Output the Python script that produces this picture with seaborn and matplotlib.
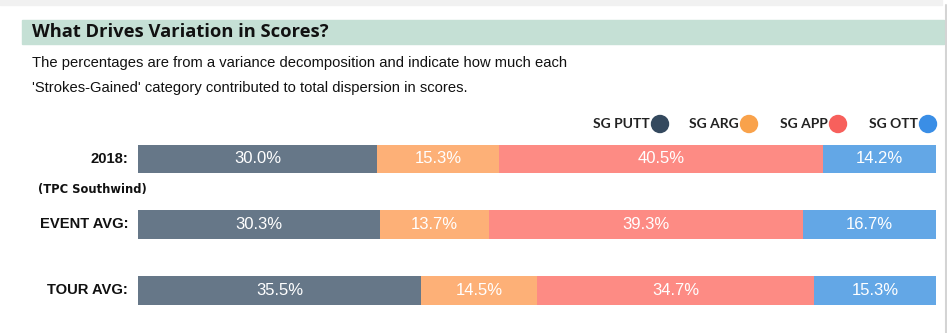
import matplotlib
matplotlib.use("Agg")
import matplotlib.pyplot as plt
from matplotlib.patches import Rectangle, Ellipse
import seaborn as sns
import pandas as pd
import numpy as np

rows = ["2018:", "EVENT AVG:", "TOUR AVG:"]
categories = ["SG PUTT", "SG ARG", "SG APP", "SG OTT"]
sg_putt = [30.0, 30.3, 35.5]
sg_arg = [15.3, 13.7, 14.5]
sg_app = [40.5, 39.3, 34.7]
sg_ott = [14.2, 16.7, 15.3]

bar_colors = ["#667788", "#fdb077", "#fd8b84", "#63a7e6"]
dot_colors = ["#34495e", "#f9a24b", "#f7605c", "#3a8ee6"]

W, H = 947, 333
sns.set_theme(style="white")
plt.rcParams["font.family"] = ["Liberation Sans", "DejaVu Sans"]

fig = plt.figure(figsize=(W / 100, H / 100), dpi=100)

def fx(px):
    return px / W

def fy(py):
    return 1 - py / H

# page decorations
fig.patches.append(Rectangle((0, fy(5)), fx(942), 5 / H, transform=fig.transFigure,
                             color="#f1f1f1", zorder=0))
fig.patches.append(Rectangle((fx(22), fy(44)), fx(922), 24 / H, transform=fig.transFigure,
                             color="#c5e0d5", zorder=0))
fig.lines.append(plt.Line2D([fx(945.5), fx(945.5)], [0, fy(5)], transform=fig.transFigure,
                            color="#d4d4d4", lw=1.5))

fig.text(fx(32), fy(32), "What Drives Variation in Scores?", fontsize=13.2,
         fontweight="bold", family=["Open Sans", "DejaVu Sans"], color="#111111",
         va="center", ha="left")
fig.text(fx(32), fy(63), "The percentages are from a variance decomposition and indicate how much each",
         fontsize=10.6, color="#111111", va="center", ha="left")
fig.text(fx(32), fy(88), "'Strokes-Gained' category contributed to total dispersion in scores.",
         fontsize=10.6, color="#111111", va="center", ha="left")

# legend
legend_right = [650, 739, 828, 918]
for cat, xr, c in zip(categories, legend_right, dot_colors):
    fig.text(fx(xr), fy(124), cat, fontsize=10, fontweight="bold",
             family=["Lato", "DejaVu Sans"], color="#222222", va="center", ha="right")
    fig.patches.append(Ellipse((fx(xr + 10), fy(124)), width=17 / W, height=17 / H,
                               transform=fig.transFigure, color=c))

# bars
ax = fig.add_axes([fx(138), 1 - 323.4 / H, fx(936) - fx(138), (323.4 - 126.1) / H])
df = pd.DataFrame({"row": rows, "SG PUTT": sg_putt, "SG ARG": sg_arg,
                   "SG APP": sg_app, "SG OTT": sg_ott})
cum = df[categories].cumsum(axis=1)
for i in range(len(categories) - 1, -1, -1):
    d = pd.DataFrame({"row": rows, "v": cum[categories[i]].values})
    sns.barplot(data=d, x="v", y="row", orient="h", color=bar_colors[i],
                width=0.44, saturation=1, ax=ax, linewidth=0)

for r in range(len(rows)):
    for i, cat in enumerate(categories):
        v = df.loc[r, cat]
        center = cum.loc[r, cat] - v / 2
        ax.text(center, r, f"{v:.1f}%", color="white", fontsize=12,
                ha="center", va="center")

ax.set_xlim(0, 100)
ax.set_ylim(2.5, -0.5)
ax.axis("off")

# row labels
label_y = [159, 224.5, 290.5]
for lab, y in zip(rows, label_y):
    fig.text(fx(128), fy(y), lab, fontsize=10.6, fontweight="bold", color="#111111",
             va="center", ha="right")
fig.text(fx(38), fy(189), "(TPC Southwind)", fontsize=8.3, fontweight="bold",
         family=["DejaVu Sans"], color="#111111", va="center", ha="left")

fig.savefig("out.png", dpi=100)
